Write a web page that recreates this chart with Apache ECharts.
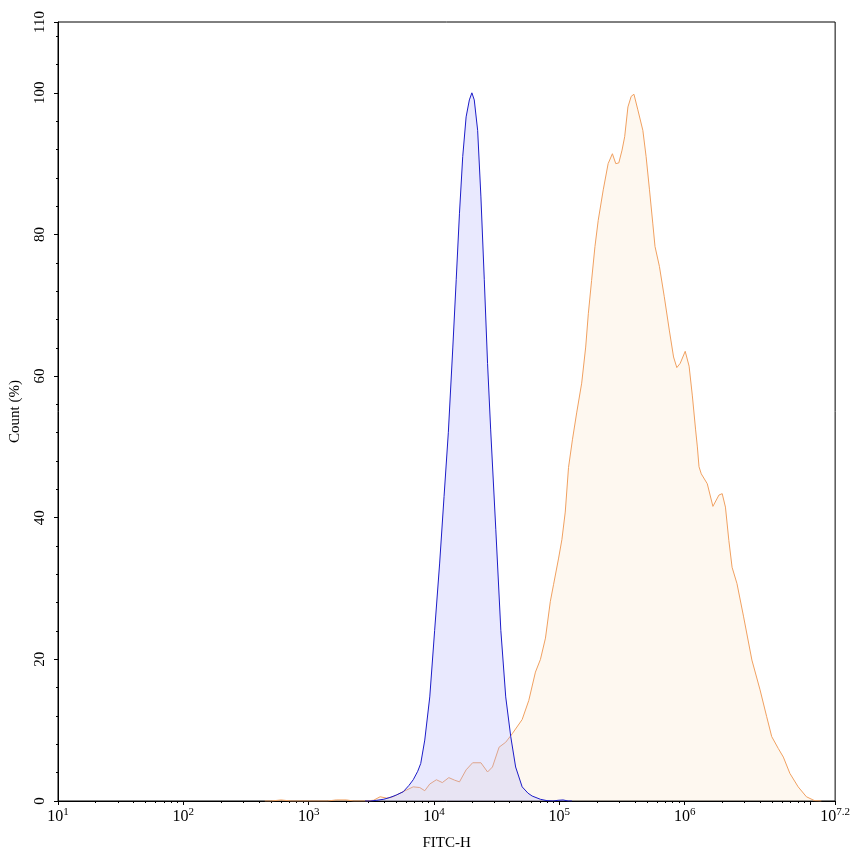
<!DOCTYPE html>
<html>
<head>
<meta charset="utf-8">
<script src="https://cdn.jsdelivr.net/npm/echarts@6/dist/echarts.min.js"></script>
<style>
html,body{margin:0;padding:0;background:#fff;}
#chart{width:853px;height:856px;}
</style>
</head>
<body>
<div id="chart"></div>
<script>
// X values are log10(FITC-H)
const blueLogX = [3.45,3.49,3.544,3.60,3.649,3.70,3.754,3.80,3.834,3.87,3.894,3.926,3.966,4.005,4.045,4.08,4.114,4.150,4.177,4.203,4.229,4.256,4.282,4.302,4.321,4.348,4.374,4.401,4.427,4.452,4.493,4.533,4.572,4.612,4.651,4.703,4.75,4.783,4.849,4.901,4.95,4.99,5.03,5.07,5.1];
const blueCount = [0,0,0.1,0.25,0.5,0.85,1.3,2.2,3.0,4.2,5.3,8.6,14.7,24.1,33.6,43,52,64.1,73.6,83.0,91.0,96.6,99.0,100,99.0,94.7,85.3,73.6,61.8,52.4,38.3,24.1,14.7,9.1,4.8,2.0,1.1,0.7,0.24,0.05,0,0.1,0.15,0,0];

const orangeLogX = [2.65,2.70,2.78,2.86,3.15,3.22,3.30,3.36,3.45,3.517,3.570,3.623,3.673,3.728,3.781,3.834,3.886,3.926,3.966,4.019,4.066,4.118,4.163,4.203,4.256,4.308,4.374,4.427,4.466,4.519,4.572,4.624,4.703,4.756,4.809,4.849,4.889,4.928,4.954,4.994,5.020,5.047,5.073,5.104,5.138,5.178,5.210,5.231,5.257,5.284,5.310,5.350,5.389,5.423,5.450,5.474,5.500,5.521,5.547,5.573,5.595,5.626,5.666,5.692,5.719,5.745,5.763,5.798,5.837,5.877,5.911,5.937,5.964,6.004,6.035,6.061,6.087,6.101,6.114,6.132,6.180,6.225,6.273,6.299,6.325,6.352,6.378,6.417,6.470,6.536,6.601,6.654,6.694,6.747,6.787,6.839,6.905,6.971,7.036,7.09];
const orangeCount = [0,0,0.15,0,0,0.15,0.15,0,0,0.1,0.6,0.4,0.6,1.1,1.55,2.0,1.9,1.45,2.4,3.0,2.6,3.3,2.95,2.7,4.4,5.4,5.4,4.1,4.8,7.6,8.3,9.5,11.5,14.2,18.2,20,23,28.2,30.6,34.3,36.9,40.8,47.1,51,54.8,59.0,64.1,68.8,73.5,78.3,82.0,86.3,90.0,91.4,90.0,90.1,91.9,93.8,98.0,99.5,99.8,97.6,94.7,91.0,86.3,81.6,78.3,75.5,71.2,66.5,62.7,61.2,61.8,63.5,61.4,57.2,52.4,50,47.2,46.2,44.8,41.6,43.2,43.4,41.5,36.8,33.0,30.7,26.0,19.9,15.7,11.9,9.1,7.4,6.2,3.9,2.0,0.6,0.05,0];

const xMajorTicks = [1,2,3,4,5,6,7,7.2];
const xLabelExps = [1,2,3,4,5,6,7.2];
const yLabelValues = [0,20,40,60,80,100,110];

const xMinorTicks = [];
for (let n = 1; n <= 6; n++) for (let k = 2; k <= 9; k++) xMinorTicks.push(n + Math.log10(k));
const yMinorTicks = [];
for (let v = 4; v < 110; v += 4) if (v % 20 !== 0) yMinorTicks.push(v);

const FONT = 'Liberation Serif';
const chart = echarts.init(document.getElementById('chart'));
chart.setOption({
  animation: false,
  backgroundColor: '#fff',
  grid: {left: 55, right: 14, top: 22, bottom: 55, show: true, borderColor: '#000', borderWidth: 1, backgroundColor: 'transparent'},
  xAxis: [{
    type: 'value', min: 1, max: 7.2, position: 'bottom',
    name: 'FITC-H', nameLocation: 'middle', nameGap: 35,
    nameTextStyle: {fontFamily: FONT, fontSize: 15, color: '#000'},
    axisLine: {show: true, lineStyle: {color: '#000', width: 1}},
    axisTick: {show: true, length: 4, lineStyle: {color: '#000'}, customValues: xMajorTicks},
    axisLabel: {
      customValues: xLabelExps, margin: 6, color: '#000',
      formatter: function (v) { return '{b|10}{s|' + (Math.round(v * 10) / 10) + '}'; },
      rich: {
        b: {fontFamily: FONT, fontSize: 16, color: '#000', lineHeight: 19},
        s: {fontFamily: FONT, fontSize: 11, color: '#000', verticalAlign: 'top', lineHeight: 19, padding: [0, 0, 6, 0]}
      }
    },
    splitLine: {show: false}
  }, {
    type: 'value', min: 1, max: 7.2, position: 'bottom',
    axisLine: {show: false},
    axisTick: {show: true, length: 2, lineStyle: {color: '#000'}, customValues: xMinorTicks},
    axisLabel: {show: false},
    splitLine: {show: false}
  }],
  yAxis: [{
    type: 'value', min: 0, max: 110, position: 'left',
    name: 'Count (%)', nameLocation: 'middle', nameGap: 35, nameRotate: 90,
    nameTextStyle: {fontFamily: FONT, fontSize: 15, color: '#000'},
    axisLine: {show: true, lineStyle: {color: '#000', width: 1}},
    axisTick: {show: true, length: 4, lineStyle: {color: '#000'}, customValues: yLabelValues},
    axisLabel: {customValues: yLabelValues, rotate: 90, margin: 10, fontFamily: FONT, fontSize: 15, color: '#000'},
    splitLine: {show: false}
  }, {
    type: 'value', min: 0, max: 110, position: 'left',
    axisLine: {show: false},
    axisTick: {show: true, length: 2, lineStyle: {color: '#000'}, customValues: yMinorTicks},
    axisLabel: {show: false},
    splitLine: {show: false}
  }],
  series: [{
    type: 'line', xAxisIndex: 0, yAxisIndex: 0,
    data: orangeLogX.map((x, i) => [x, orangeCount[i]]),
    showSymbol: false, symbol: 'none',
    lineStyle: {color: '#f0a060', width: 1},
    areaStyle: {color: 'rgba(250,220,185,0.3)'},
    z: 2
  }, {
    type: 'line', xAxisIndex: 0, yAxisIndex: 0,
    data: blueLogX.map((x, i) => [x, blueCount[i]]),
    showSymbol: false, symbol: 'none',
    lineStyle: {color: '#1c1cc8', width: 1},
    areaStyle: {color: 'rgba(175,175,250,0.4)'},
    z: 3
  }]
});
</script>
</body>
</html>
